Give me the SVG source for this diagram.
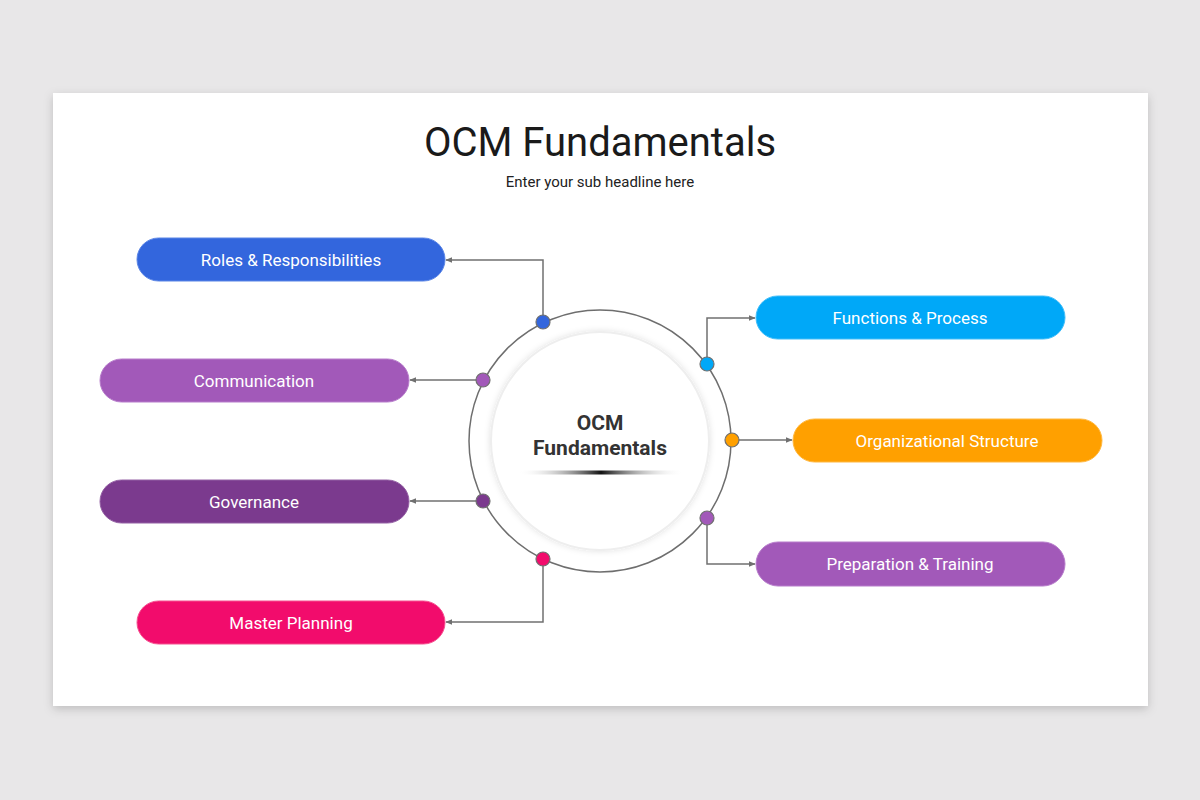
<svg xmlns="http://www.w3.org/2000/svg" width="1200" height="800" viewBox="0 0 1200 800">
<defs>
<filter id="sh" x="-5%" y="-5%" width="110%" height="115%">
<feDropShadow dx="0" dy="3" stdDeviation="5" flood-color="#000" flood-opacity="0.18"/>
</filter>
<filter id="csh" x="-20%" y="-20%" width="140%" height="140%">
<feDropShadow dx="0" dy="0" stdDeviation="3" flood-color="#000" flood-opacity="0.12"/>
</filter>
<linearGradient id="ul" x1="0" y1="0" x2="1" y2="0">
<stop offset="0" stop-color="#ffffff" stop-opacity="0"/>
<stop offset="0.5" stop-color="#111111"/>
<stop offset="1" stop-color="#ffffff" stop-opacity="0"/>
</linearGradient>
<marker id="arr" viewBox="0 0 10 10" refX="9" refY="5" markerWidth="7" markerHeight="7" orient="auto" markerUnits="userSpaceOnUse">
<path d="M0,1 L10,5 L0,9 Z" fill="#707070"/>
</marker>
<style>
.pill{stroke-width:1;}
.pt{font-family:Roboto,"Liberation Sans",sans-serif;font-size:17px;fill:#ffffff;text-anchor:middle;}
.dot{stroke:#707070;stroke-width:1.2;}
.conn{fill:none;stroke:#707070;stroke-width:1.5;}
</style>
</defs>
<rect x="0" y="0" width="1200" height="800" fill="#e8e7e8"/>
<rect x="53" y="93" width="1095" height="613" fill="#ffffff" filter="url(#sh)"/>
<text x="600" y="156" font-family="Roboto,'Liberation Sans',sans-serif" font-size="40" fill="#1a1a1a" text-anchor="middle">OCM Fundamentals</text>
<text x="600" y="187" font-family="Roboto,'Liberation Sans',sans-serif" font-size="15" fill="#222222" text-anchor="middle">Enter your sub headline here</text>

<g id="connectors">
<polyline class="conn" points="543,322 543,260 446,260" marker-end="url(#arr)"/>
<polyline class="conn" points="483,380 410,380" marker-end="url(#arr)"/>
<polyline class="conn" points="483,501 410,501" marker-end="url(#arr)"/>
<polyline class="conn" points="543,559 543,622 446,622" marker-end="url(#arr)"/>
<polyline class="conn" points="707,364 707,318 755,318" marker-end="url(#arr)"/>
<polyline class="conn" points="732,440 792,440" marker-end="url(#arr)"/>
<polyline class="conn" points="707,518 707,564 755,564" marker-end="url(#arr)"/>
</g>

<g id="center">
<circle cx="600" cy="441" r="131" fill="#ffffff" stroke="#6e6e6e" stroke-width="1.5"/>
<circle cx="600" cy="441" r="109" fill="#ffffff" stroke="#eeeeee" stroke-width="2" filter="url(#csh)"/>
<text x="600" y="430" font-family="Roboto,'Liberation Sans',sans-serif" font-size="21" font-weight="bold" fill="#333333" text-anchor="middle">OCM</text>
<text x="600" y="455" font-family="Roboto,'Liberation Sans',sans-serif" font-size="21" font-weight="bold" fill="#333333" text-anchor="middle">Fundamentals</text>
<rect x="518" y="470.5" width="166" height="4" fill="url(#ul)"/>
</g>

<g id="dots">
<circle class="dot" cx="543" cy="322" r="7" fill="#3366dd"/>
<circle class="dot" cx="483" cy="380" r="7" fill="#a259b9"/>
<circle class="dot" cx="483" cy="501" r="7" fill="#7b3a8e"/>
<circle class="dot" cx="543" cy="559" r="7" fill="#f20c6c"/>
<circle class="dot" cx="707" cy="364" r="7" fill="#00a8f8"/>
<circle class="dot" cx="732" cy="440" r="7" fill="#ffa000"/>
<circle class="dot" cx="707" cy="518" r="7" fill="#a259b9"/>
</g>

<g id="roles">
<rect class="pill" x="137" y="238" width="308" height="43" rx="21.5" fill="#3366dd" stroke="#5a85e6"/>
<text class="pt" x="291" y="265.5">Roles &amp; Responsibilities</text>
</g>
<g id="communication">
<rect class="pill" x="100" y="359" width="309" height="43" rx="21.5" fill="#a259b9" stroke="#b77ccb"/>
<text class="pt" x="254" y="386.5">Communication</text>
</g>
<g id="governance">
<rect class="pill" x="100" y="480" width="309" height="43" rx="21.5" fill="#7b3a8e" stroke="#9460a4"/>
<text class="pt" x="254" y="507.5">Governance</text>
</g>
<g id="master-planning">
<rect class="pill" x="137" y="601" width="308" height="43" rx="21.5" fill="#f20c6c" stroke="#f5508f"/>
<text class="pt" x="291" y="628.5">Master Planning</text>
</g>
<g id="functions">
<rect class="pill" x="756" y="296" width="309" height="43" rx="21.5" fill="#00a8f8" stroke="#40bdf9"/>
<text class="pt" x="910" y="323.5">Functions &amp; Process</text>
</g>
<g id="organizational">
<rect class="pill" x="793" y="419" width="309" height="43" rx="21.5" fill="#ffa000" stroke="#ffb840"/>
<text class="pt" x="947" y="446.5">Organizational Structure</text>
</g>
<g id="preparation">
<rect class="pill" x="756" y="542" width="309" height="44" rx="22" fill="#a259b9" stroke="#b77ccb"/>
<text class="pt" x="910" y="569.5">Preparation &amp; Training</text>
</g>
</svg>
